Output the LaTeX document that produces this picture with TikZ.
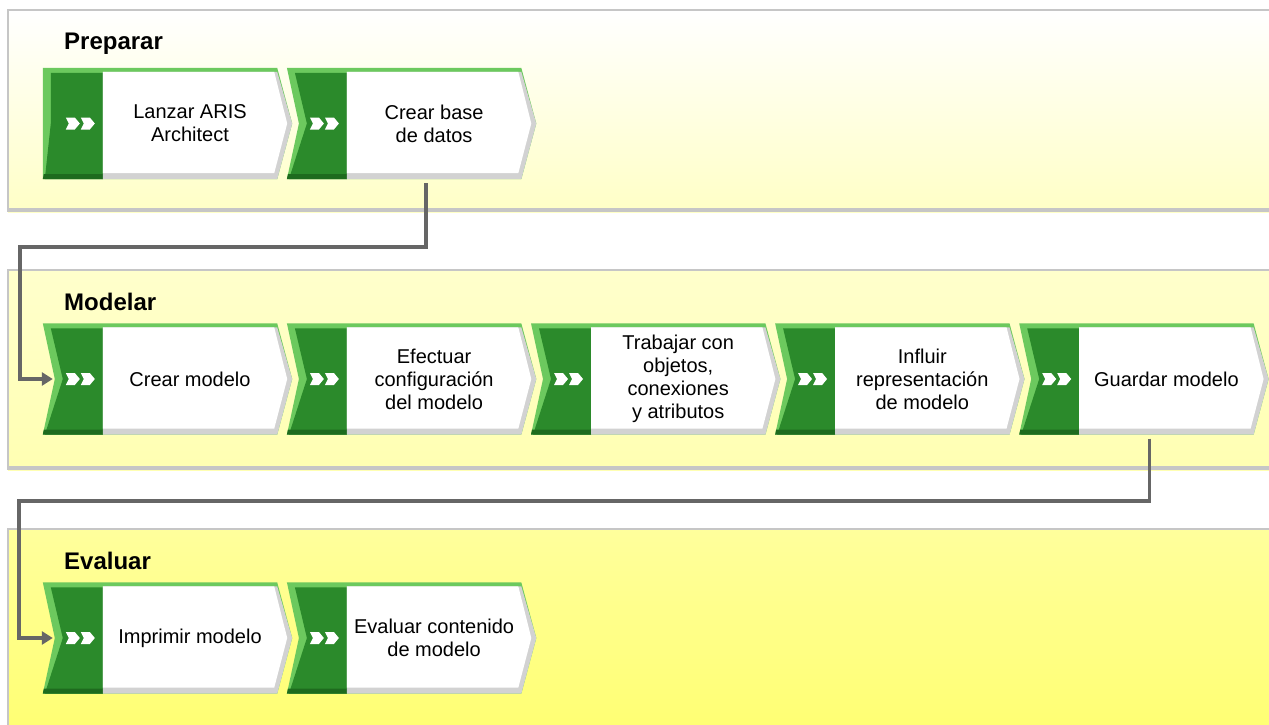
\documentclass[tikz,border=0pt]{standalone}
\usepackage{fontspec}
\setmainfont{Liberation Sans}
\usetikzlibrary{arrows.meta,positioning,calc,backgrounds}

\definecolor{darkgreen}{HTML}{2B8A2B}
\definecolor{lightgreen}{HTML}{6CC95E}
\definecolor{deepgreen}{HTML}{1E6B1E}
\definecolor{shadegrey}{HTML}{D2D2D2}
\definecolor{linegrey}{HTML}{666666}
\definecolor{lanegrey}{HTML}{C6C6C6}
\definecolor{lanea}{HTML}{FFFFC6}
\definecolor{laneb}{HTML}{FFFFCC}
\definecolor{lanec}{HTML}{FFFFB2}
\definecolor{laned}{HTML}{FFFF9C}
\definecolor{lanee}{HTML}{FFFF72}

\tikzset{
    %Define standard arrow tip
    >={Triangle[length=11pt,width=13pt]},
    %Define style for lane titles
    lanetitle/.style={
           anchor=base west, inner sep=0pt,
           font=\fontsize{24}{28}\selectfont\bfseries},
    % Define arrow style
    pil/.style={
           ->,
           line width=3.5pt,
           draw=linegrey,
           shorten <=4pt,}
}

\begin{document}
\begin{tikzpicture}[x=1pt, y=-1pt, node distance=69.7pt]
	\tikzstyle{func} = [rectangle, minimum width=174pt, minimum height=111pt, inner sep=0pt, align=center, font=\fontsize{20}{23}\selectfont]

	\useasboundingbox (0,0) rectangle (1269,725);

	% Lanes
	\begin{scope}[on background layer]
	\fill[white] (0,0) rectangle (1269,725);
	\foreach \ytop/\ybot/\ctop/\cbot in {10/212/white/lanea, 270/470/laneb/lanec, 529/735/laned/lanee} {
		\shade[top color=\ctop, bottom color=\cbot] (8,\ytop) rectangle (1275,\ybot);
		\draw[lanegrey, line width=1.2pt] (1275,\ytop) -- (8,\ytop) -- (8,\ybot);
		\draw[lanegrey, line width=4pt] (8,\ybot-2) -- (1275,\ybot-2);
	}
	\end{scope}

	\node[lanetitle] (preparar) at (64,50) {Preparar};
	\node[lanetitle] (modelar) at (64,310) {Modelar};
	\node[lanetitle] (evaluar) at (64,569) {Evaluar};

	% Preparar
	\node[func] (lanzar) at (190,123.5) {Lanzar ARIS\\Architect};
	\node[func, right=of lanzar] (crearbd) {Crear base\\de datos};

	% Modelar
	\node[func] (crearmod) at (190,379) {Crear modelo};
	\node[func, right=of crearmod] (efectuar) {Efectuar\\configuración\\del modelo};
	\node[func, right=of efectuar] (trabajar) {Trabajar con\\objetos,\\conexiones\\y atributos};
	\node[func, right=of trabajar] (influir) {Influir\\representación\\de modelo};
	\node[func, right=of influir] (guardar) {Guardar modelo};

	% Evaluar
	\node[func] (imprimir) at (190,638) {Imprimir modelo};
	\node[func, right=of imprimir] (evalcont) {Evaluar contenido\\de modelo};

	% Function shapes behind the texts
	\begin{scope}[on background layer]
	\foreach \n/\notch in {lanzar/0, crearbd/12, crearmod/12, efectuar/12, trabajar/12, influir/12, guardar/12, imprimir/12, evalcont/12} {
		\path (\n.north west) coordinate (nw) (\n.south west) coordinate (sw)
		      (\n.north east) coordinate (ne) (\n.south east) coordinate (se)
		      (\n.east) coordinate (e) (\n.west) coordinate (w);
		\fill[lightgreen] ($(nw)+(-60,0)$) -- (ne) -- ($(e)+(15,0)$) -- (se) -- ($(sw)+(-60,0)$) -- ($(w)+(-60+\notch,0)$) -- cycle;
		\fill[darkgreen] ($(nw)+(-52,5)$) -- ($(nw)+(0,5)$) -- (sw) -- ($(sw)+(-58,0)$) -- ($(w)+(-52+\notch,0)$) -- cycle;
		\fill[deepgreen] ($(sw)+(-59,-5)$) -- ($(sw)+(0,-5)$) -- (sw) -- ($(sw)+(-60,0)$) -- cycle;
		\fill[shadegrey] ($(nw)+(0,4)$) -- ($(ne)+(0,4)$) -- ($(e)+(15,0)$) -- (se) -- (sw) -- cycle;
		\fill[white] ($(nw)+(0,4)$) -- ($(ne)+(-3,4)$) -- ($(e)+(10,0)$) -- ($(se)+(-3,-6)$) -- ($(sw)+(0,-6)$) -- cycle;
		\foreach \dx in {0,15}
			\fill[white] ($(w)+(-37+\dx,-6)$) -- ++(9,0) -- ++(5,6) -- ++(-5,6) -- ++(-9,0) -- ++(3,-6) -- cycle;
	}
	\end{scope}

	% Connectors
	\coordinate (bendone) at (20,247);
	\coordinate (bendtwo) at (19,501);
	\draw[pil] ([xshift=-8pt]crearbd.south) |- (bendone) |- ([xshift=-50pt]crearmod.west);
	\draw[pil] ([xshift=-17pt]guardar.south) |- (bendtwo) |- ([xshift=-50pt]imprimir.west);

\end{tikzpicture}
\end{document}
